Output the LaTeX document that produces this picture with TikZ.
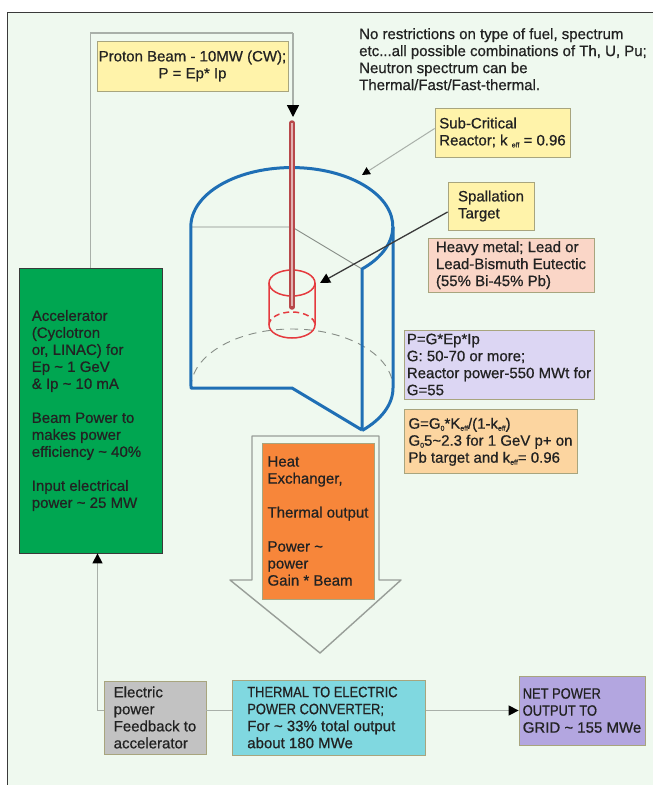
\documentclass[tikz,border=0pt]{standalone}
\usepackage{fontspec}
\setmainfont{Liberation Sans}[FakeBold=0.7]
\newfontfamily\narrowcaps[FakeStretch=0.86,FakeBold=0.7]{Liberation Sans}
\usepackage{xcolor}
\usepackage{tikz}
\usetikzlibrary{positioning}
\usetikzlibrary{arrows.meta}

\definecolor{bgcol}{HTML}{EFF9EF}
\definecolor{framecol}{HTML}{3A3A3A}
\definecolor{txt}{HTML}{222222}
\definecolor{boxline}{HTML}{A8A57E}
\definecolor{linegray}{HTML}{A9B0A9}
\definecolor{ylw}{HTML}{FFF3AA}
\definecolor{pinkbox}{HTML}{FAD6C7}
\definecolor{lilac}{HTML}{DCD6F3}
\definecolor{apricot}{HTML}{FCD5A0}
\definecolor{accgreen}{HTML}{00A651}
\definecolor{heatorange}{HTML}{F7863A}
\definecolor{fbgray}{HTML}{C2C2C2}
\definecolor{cyanbox}{HTML}{80D8E0}
\definecolor{gridpurple}{HTML}{B3A6E0}
\definecolor{vesselblue}{HTML}{1F6FB5}
\definecolor{tgtred}{HTML}{E53A3E}
\definecolor{rodedge}{HTML}{B8484A}
\definecolor{rodfill}{HTML}{E2B2B2}

\newcommand{\lo}[1]{\raisebox{-2pt}{\fontsize{7}{7}\selectfont #1}}
\newcommand{\tld}{\textasciitilde}
\newcommand{\pad}[1]{\rule{#1}{0pt}}

\begin{document}
\begin{tikzpicture}[
    x=1pt, y=-1pt,
    font=\fontsize{15}{17}\selectfont,
    textbox/.style={draw=boxline,line width=0.8pt,align=left,inner xsep=0pt,inner ysep=0pt,text=txt},
    conn/.style={draw=linegray,line width=1.4pt},
    darkline/.style={draw=framecol,line width=1.3pt},
    blkarrow/.style={-{Triangle[length=#1,width=#1,color=black]}},
    vessel/.style={draw=vesselblue,line width=3pt,line join=round},
    cutline/.style={draw=linegray!80!black,line width=0.9pt},
    tgt/.style={draw=tgtred,line width=1.5pt}
    ]

    \useasboundingbox (0,0) rectangle (653,785);
    \fill[bgcol] (7.5,12.5) rectangle (653,785);
    \draw[framecol,line width=1.2pt] (7.5,785) -- (7.5,12.5) -- (653,12.5);

    % reactor vessel, cut open
    \draw[cutline] (191,227) -- (292,227) -- (362,269);
    \draw[cutline,dashed,dash pattern=on 8pt off 6pt] (191,388) arc[start angle=180,end angle=360,x radius=101,y radius=59];
    \draw[vessel] (362,430) -- (362,269) arc[start angle=46,end angle=-180,x radius=101,y radius=59] -- (191,388) -- (292,388) -- (362,430);
    \draw[vessel] (393,227) -- (393,388) arc[start angle=0,end angle=46,x radius=101,y radius=59];

    % spallation target
    \draw[tgt,dashed,dash pattern=on 6pt off 4pt] (269,325) arc[start angle=180,end angle=360,x radius=23,y radius=13];
    \draw[tgt] (292,283) ellipse[x radius=23,y radius=13];
    \draw[tgt] (269,283) -- (269,325) arc[start angle=180,end angle=0,x radius=23,y radius=13] -- (315,283);

    % beam pipe
    \draw[rodedge,line width=5.5pt,line cap=round] (292,123) -- (292,307);
    \draw[rodfill,line width=2.2pt] (292,123) -- (292,306);

    % output arrow
    \draw[linegray!90!black,line width=1.4pt,line join=round] (252,436) -- (379,436) -- (379,580) -- (401,580) -- (320,653) -- (230,580) -- (252,580) -- cycle;

    \node[textbox,fill=ylw,align=center,minimum width=191pt,minimum height=50pt] (proton) at (192.5,66) {Proton Beam - 10MW (CW);\\ P = Ep* Ip};
    \node[anchor=north west,align=left,inner sep=0pt,text=txt] (note) at (359,28) {No restrictions on type of fuel, spectrum\\ etc...all possible combinations of Th, U, Pu;\\ Neutron spectrum can be\\ Thermal/Fast/Fast-thermal.};

    \node[textbox,fill=ylw,minimum width=135pt,minimum height=49pt] (subcrit) at (502.5,132.5) {Sub-Critical\\ Reactor; k \lo{eff} = 0.96};
    \node[textbox,fill=ylw,minimum width=86pt,minimum height=48pt] (spall) at (491,206) {Spallation\\ Target};

    \node[textbox,fill=lilac,minimum width=190pt,minimum height=69pt] (pg) at (499,364.5) {P=G*Ep*Ip\\ G: 50-70 or more;\\ Reactor power-550 MWt for\\ G=55};
    \node[textbox,fill=pinkbox,minimum width=166pt,minimum height=54pt,above=37pt of pg.north east,anchor=south east] (heavy) {Heavy metal; Lead or\\ Lead-Bismuth Eutectic\\ (55\% Bi-45\% Pb)};
    \node[textbox,fill=apricot,minimum width=173pt,minimum height=64pt,below=10pt of pg.south west,anchor=north west] (gg) {G=G\lo{0}*K\lo{eff}/(1-k\lo{eff})\\ G\lo{0}5\tld2.3 for 1 GeV p+ on\\ Pb target and k\lo{eff}= 0.96};

    \node[textbox,draw=framecol,fill=accgreen,minimum width=143pt,minimum height=285pt] (accel) at (90.5,410.5) {Accelerator\\ (Cyclotron\\ or, LINAC) for\\ Ep \tld\ 1 GeV\\ \& Ip \tld\ 10 mA\\[17pt] Beam Power to\\ makes power\\ efficiency \tld\ 40\%\pad{8pt}\\[17pt] Input electrical\\ power \tld\ 25 MW};

    \node[textbox,fill=heatorange,minimum width=112pt,minimum height=156pt] (heat) at (318,521) {Heat\\ Exchanger,\\[17pt] Thermal output\\[17pt] Power \tld\\ power\\ Gain * Beam};

    \node[textbox,fill=fbgray,minimum width=102pt,minimum height=73pt] (feedback) at (155,717.5) {Electric\\ power\\ Feedback to\\ accelerator};
    \node[textbox,fill=cyanbox,minimum width=193pt,minimum height=75pt,right=26pt of feedback] (thermal) {{\narrowcaps THERMAL TO ELECTRIC}\\ {\narrowcaps POWER CONVERTER;}\\ For \tld\ 33\% total output\pad{16pt}\\ about 180 MWe};
    \node[textbox,fill=gridpurple,minimum width=126pt,minimum height=69pt] (grid) at (582,710.5) {{\narrowcaps NET POWER}\\ {\narrowcaps OUTPUT TO}\\ GRID \tld\ 155 MWe};

    \coordinate (bend) at (293,33);
    \coordinate (rodtop) at (293,117);
    \coordinate (vesseltop) at (362,175);
    \coordinate (target) at (320,283);

    \draw[conn] (accel.north) |- (bend);
    \draw[conn,blkarrow=12pt] (bend) -- (rodtop);
    \draw[conn,line width=1pt,blkarrow=8pt] ([yshift=4pt]subcrit.west) -- (vesseltop);
    \draw[darkline,blkarrow=10pt] ([yshift=-6pt]spall.west) -- (target);
    \draw[conn,blkarrow=10pt] (feedback.west |- grid.west) -| ([xshift=7pt]accel.south);
    \draw[conn] (feedback.east |- grid.west) -- (thermal.west |- grid.west);
    \draw[conn,blkarrow=10pt] (thermal.east |- grid.west) -- (grid.west);
  \end{tikzpicture}
\end{document}
